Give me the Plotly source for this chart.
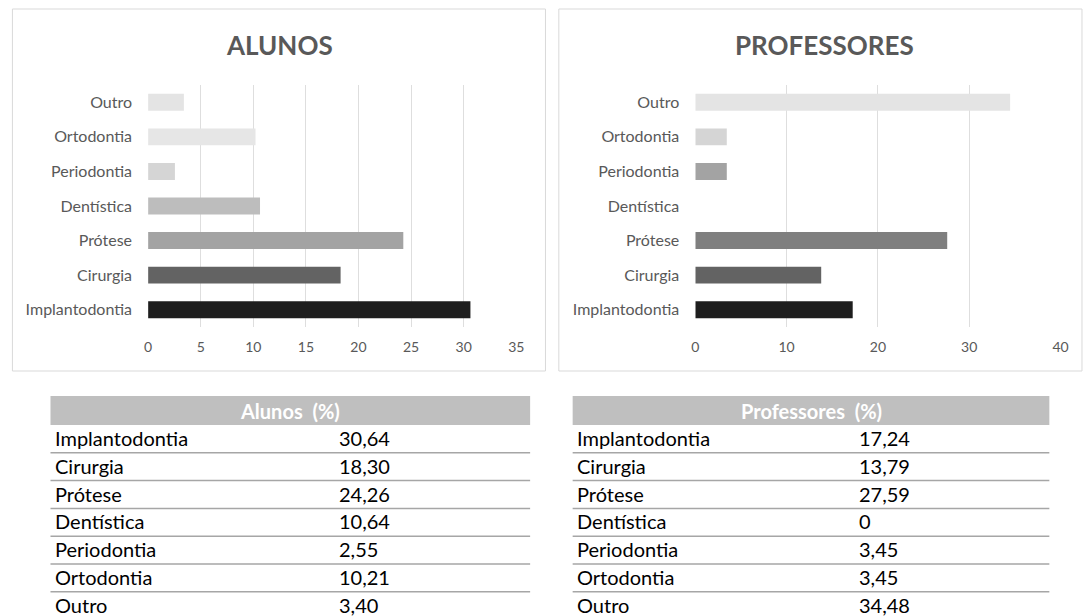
import plotly.graph_objects as go

# ---------------- data ----------------
categories = ["Implantodontia", "Cirurgia", "Prótese", "Dentística",
              "Periodontia", "Ortodontia", "Outro"]
alunos = [30.64, 18.30, 24.26, 10.64, 2.55, 10.21, 3.40]
professores = [17.24, 13.79, 27.59, 0, 3.45, 3.45, 34.48]

alunos_colors = ["#1e1e1e", "#636363", "#a3a3a3", "#bdbdbd", "#d5d5d5", "#e6e6e6", "#e4e4e4"]
prof_colors = ["#1e1e1e", "#636363", "#7f7f7f", "#bdbdbd", "#a3a3a3", "#d5d5d5", "#e4e4e4"]

alunos_ticks = [0, 5, 10, 15, 20, 25, 30, 35]
prof_ticks = [0, 10, 20, 30, 40]

title_alunos = "ALUNOS"
title_prof = "PROFESSORES"
table_head_alunos = "Alunos\u00a0 (%)"
table_head_prof = "Professores\u00a0 (%)"

# ---------------- helpers ----------------
W, H = 1088, 616
FONT = "Lato"
GREY_TXT = "#595959"


def px(x):
    return x / W


def py(y):
    return 1 - y / H


def fmt(v):
    if v == 0:
        return "0"
    return f"{v:.2f}".replace(".", ",")


fig = go.Figure()

fig.add_trace(go.Bar(
    y=categories, x=alunos, orientation="h",
    marker=dict(color=alunos_colors, line=dict(width=0)),
    xaxis="x", yaxis="y", showlegend=False, hoverinfo="x+y"))
fig.add_trace(go.Bar(
    y=categories, x=professores, orientation="h",
    marker=dict(color=prof_colors, line=dict(width=0)),
    xaxis="x2", yaxis="y2", showlegend=False, hoverinfo="x+y"))

plot_top, plot_bot = 85, 327

xcommon = dict(showgrid=True, gridcolor="#dedede", gridwidth=1, zeroline=False,
               showline=False, ticks="", tickfont=dict(family=FONT, size=14, color=GREY_TXT),
               ticklabelstandoff=10, fixedrange=True)
ycommon = dict(type="category", categoryorder="array", categoryarray=categories,
               range=[-0.5, len(categories) - 0.5], showgrid=False, zeroline=False,
               showline=False, ticks="", tickfont=dict(family=FONT, size=16, color=GREY_TXT),
               ticklabelstandoff=15, domain=[py(plot_bot), py(plot_top)], fixedrange=True)

fig.update_layout(
    width=W, height=H,
    margin=dict(l=0, r=0, t=0, b=0),
    paper_bgcolor="white", plot_bgcolor="white",
    bargap=0.51,
    font=dict(family=FONT, color=GREY_TXT),
    xaxis=dict(domain=[px(145.7), px(518)], range=[0, 35], tickvals=alunos_ticks,
               anchor="y", **xcommon),
    yaxis=dict(anchor="x", **ycommon),
    xaxis2=dict(domain=[px(699), px(1068.3)], range=[0, 40], tickvals=prof_ticks,
                anchor="y2", **xcommon),
    yaxis2=dict(anchor="x2", **ycommon),
)

shapes = []
annotations = []

# panel borders
for (x0, x1) in [(8.5, 547.5), (561, 1090)]:
    shapes.append(dict(type="rect", xref="paper", yref="paper",
                       x0=px(x0), x1=px(x1), y0=py(371), y1=py(9),
                       line=dict(color="#d9d9d9", width=1), fillcolor="rgba(0,0,0,0)",
                       layer="below"))

# titles
for text, cx in [(title_alunos, 278.5), (title_prof, 830)]:
    annotations.append(dict(text=f"<b>{text}</b>", xref="paper", yref="paper",
                            x=px(cx), y=py(45), xanchor="center", yanchor="middle",
                            showarrow=False,
                            font=dict(family=FONT, size=26, color=GREY_TXT)))

# tables
head_top, head_bot = 396, 425
row_h = 27.8
tables = [
    dict(x0=47, x1=532, lab_x=50, val_x=337, head=table_head_alunos, vals=alunos),
    dict(x0=575, x1=1057, lab_x=577, val_x=863, head=table_head_prof, vals=professores),
]
for t in tables:
    shapes.append(dict(type="rect", xref="paper", yref="paper",
                       x0=px(t["x0"]), x1=px(t["x1"]), y0=py(head_bot), y1=py(head_top),
                       line=dict(width=0), fillcolor="#bfbfbf"))
    annotations.append(dict(text=f"<b>{t['head']}</b>", xref="paper", yref="paper",
                            x=px((t["x0"] + t["x1"]) / 2), y=py((head_top + head_bot) / 2),
                            xanchor="center", yanchor="middle", showarrow=False,
                            font=dict(family=FONT, size=20, color="white")))
    for i, (cat, v) in enumerate(zip(categories, t["vals"])):
        cy = head_bot + i * row_h + row_h / 2 - 1
        annotations.append(dict(text=cat, xref="paper", yref="paper",
                                x=px(t["lab_x"]), y=py(cy), xanchor="left", yanchor="middle",
                                showarrow=False, font=dict(family=FONT, size=20, color="black")))
        annotations.append(dict(text=fmt(v), xref="paper", yref="paper",
                                x=px(t["val_x"]), y=py(cy), xanchor="left", yanchor="middle",
                                showarrow=False, font=dict(family=FONT, size=20, color="black")))
        ly = head_bot + (i + 1) * row_h
        shapes.append(dict(type="line", xref="paper", yref="paper",
                           x0=px(t["x0"]), x1=px(t["x1"]), y0=py(ly), y1=py(ly),
                           line=dict(color="#a6a6a6", width=1.5)))

fig.update_layout(shapes=shapes, annotations=annotations)

fig.write_html(
    "out.html",
    config={"displayModeBar": False},
    post_script="document.body.style.margin='0';document.body.style.padding='0';"
                "document.body.style.overflow='hidden';",
)
